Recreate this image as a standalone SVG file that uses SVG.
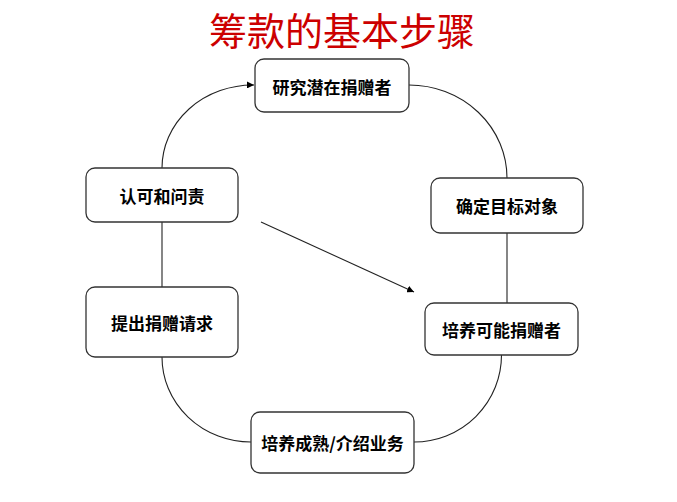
<svg xmlns="http://www.w3.org/2000/svg" width="677" height="502" viewBox="0 0 677 502">
<style>
.box{fill:#fff;stroke:#333;stroke-width:1.3}
.lbl{font-family:"Noto Sans CJK SC","Noto Sans CJK TC",sans-serif;font-size:17px;font-weight:bold;fill:#000;text-anchor:middle;dominant-baseline:central}
.title{font-family:"Noto Sans CJK SC",sans-serif;font-size:38px;fill:#cc0000;text-anchor:middle}
.c{fill:none;stroke:#222;stroke-width:1.1}
</style>
<defs>
<marker id="ah" viewBox="0 0 10 10" refX="10" refY="5" markerWidth="7" markerHeight="7" markerUnits="userSpaceOnUse" orient="auto">
<path d="M0,0 L10,5 L0,10 Z" fill="#000"/>
</marker>
</defs>
<rect width="677" height="502" fill="#fff"/>
<text class="title" x="342" y="45">筹款的基本步骤</text>
<g id="connectors">
<path class="c" d="M162,168 A91,83 0 0,1 254,85" marker-end="url(#ah)"/>
<path class="c" d="M409,85 A98,93 0 0,1 507,178"/>
<path class="c" d="M507,233 L507,303"/>
<path class="c" d="M501.5,355 A87.5,87 0 0,1 414,442"/>
<path class="c" d="M162,357 A89,85 0 0,0 251,442"/>
<path class="c" d="M162,222 L162,287"/>
<path class="c" d="M261,222 L414,292" marker-end="url(#ah)"/>
</g>
<g id="n1"><rect class="box" x="255" y="59" width="154" height="53" rx="9"/><text class="lbl" x="332" y="86">研究潜在捐赠者</text></g>
<g id="n2"><rect class="box" x="431" y="178" width="152" height="55" rx="9"/><text class="lbl" x="507" y="205.5">确定目标对象</text></g>
<g id="n3"><rect class="box" x="425" y="303" width="153" height="52" rx="9"/><text class="lbl" x="501.5" y="329">培养可能捐赠者</text></g>
<g id="n4"><rect class="box" x="251" y="412" width="163" height="61" rx="9"/><text class="lbl" x="332.5" y="442.5">培养成熟/介绍业务</text></g>
<g id="n5"><rect class="box" x="86" y="287" width="152" height="70" rx="9"/><text class="lbl" x="162" y="322.5">提出捐赠请求</text></g>
<g id="n6"><rect class="box" x="86" y="168" width="152" height="54" rx="9"/><text class="lbl" x="162" y="195">认可和问责</text></g>
</svg>
